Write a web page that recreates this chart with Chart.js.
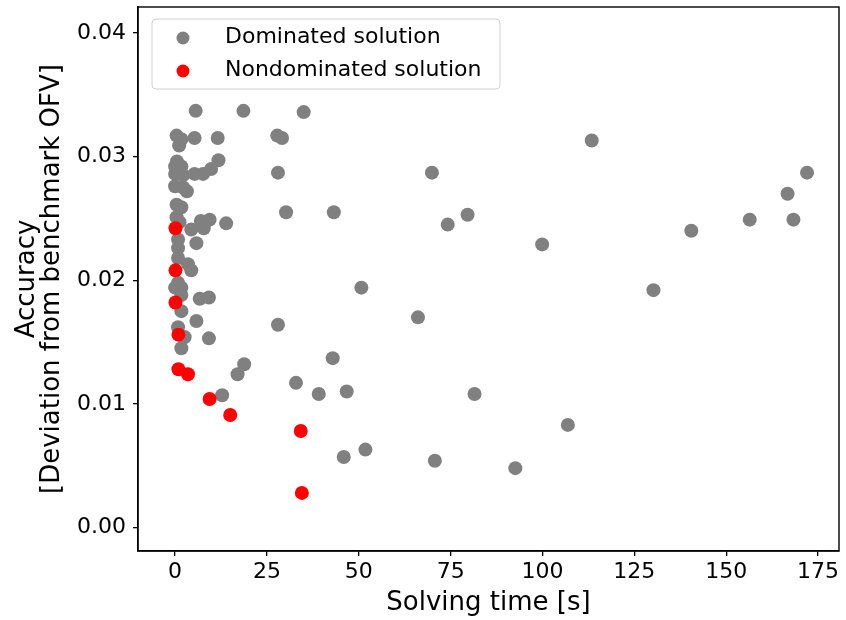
<!DOCTYPE html>
<html>
<head>
<meta charset="utf-8">
<script src="https://cdn.jsdelivr.net/npm/chart.js@4"></script>
<style>
  body { margin: 0; background: #fff; }
  #wrap { width: 846px; height: 620px; }
</style>
</head>
<body>
<div id="wrap"><canvas id="chart" width="846" height="620"></canvas></div>
<script>
// solving time [s] and accuracy of each solution
let dominatedTime = [
  0.4, 1.7, 1.1, 5.3, 11.6, 0.5, 0, 1.7, 0, 2.2, 5.3, 7.6, 9.8, 11.8,
  0, 2.2, 3.2, 0.4, 1.7, 0.4, 1.2, 4.4, 7.0, 9.4, 7.8, 13.9,
  0.8, 5.8, 0.8, 0.8, 3.5, 4.4, 0.8, 0, 1.7, 1.7, 1.7, 6.7, 9.2, 5.8,
  0.8, 2.6, 9.2, 1.7, 12.8, 17.0, 18.8,
  5.6, 18.6, 35.0, 113.4, 27.8, 29.1, 28.0, 69.9, 172, 166.7, 30.2, 43.2,
  79.6, 74.2, 156.4, 168.3, 140.5, 99.9, 50.7, 130.2, 66.1, 28.0, 42.9,
  32.9, 39.1, 46.7, 81.5, 106.9, 51.8, 45.9, 70.7, 92.6,
];
let dominatedAcc = [
  0.0317, 0.0314, 0.0309, 0.0315, 0.0315, 0.0296, 0.0292, 0.0292, 0.0286, 0.0285, 0.0286, 0.0286, 0.029, 0.0297,
  0.0276, 0.0275, 0.0272, 0.0261, 0.0259, 0.0251, 0.0247, 0.0241, 0.0248, 0.0249, 0.0242, 0.0246,
  0.0233, 0.023, 0.0226, 0.0218, 0.0213, 0.0208, 0.0198, 0.0194, 0.0194, 0.0188, 0.0175, 0.0185, 0.0186, 0.0167,
  0.0162, 0.0154, 0.0153, 0.0145, 0.0107, 0.0124, 0.0132,
  0.0337, 0.0337, 0.0336, 0.0313, 0.0317, 0.0315, 0.0287, 0.0287, 0.0287, 0.027, 0.0255, 0.0255,
  0.0253, 0.0245, 0.0249, 0.0249, 0.024, 0.0229, 0.0194, 0.0192, 0.017, 0.0164, 0.0137,
  0.0117, 0.0108, 0.011, 0.0108, 0.0083, 0.0063, 0.0057, 0.0054, 0.0048,
];
let nondominatedTime = [0.1, 0.1, 0.1, 0.9, 0.9, 3.5, 9.4, 15.0, 34.2, 34.5];
let nondominatedAcc = [0.0242, 0.0208, 0.0182, 0.0156, 0.0128, 0.0124, 0.0104, 0.0091, 0.0078, 0.0028];

let seriesLabels = ["Dominated solution", "Nondominated solution"];
let xTicks = [0, 25, 50, 75, 100, 125, 150, 175];
let yTicks = [0, 0.01, 0.02, 0.03, 0.04];

function toPoints(xs, ys) {
  return xs.map((x, i) => ({ x: x, y: ys[i] }));
}

let fontFamily = "'DejaVu Sans', sans-serif";

// axes frame like matplotlib spines
let framePlugin = {
  id: "frame",
  afterDatasetsDraw(chart) {
    let { ctx, chartArea } = chart;
    ctx.save();
    ctx.strokeStyle = "#000";
    ctx.lineWidth = 1.4;
    ctx.strokeRect(chartArea.left, chartArea.top, chartArea.right - chartArea.left, chartArea.bottom - chartArea.top);
    ctx.restore();
  },
};

// legend box in the upper left of the axes
let legendPlugin = {
  id: "boxLegend",
  afterDraw(chart) {
    let { ctx, chartArea } = chart;
    let x0 = chartArea.left + 14;
    let y0 = chartArea.top + 12;
    let w = 348;
    let h = 70;
    ctx.save();
    ctx.beginPath();
    ctx.roundRect(x0, y0, w, h, 4);
    ctx.fillStyle = "rgba(255,255,255,0.8)";
    ctx.fill();
    ctx.strokeStyle = "#d0d0d0";
    ctx.lineWidth = 1;
    ctx.stroke();
    ctx.font = "22px " + fontFamily;
    ctx.textBaseline = "middle";
    chart.data.datasets.forEach((ds, i) => {
      let cy = y0 + 19 + i * 33;
      ctx.beginPath();
      ctx.arc(x0 + 31, cy, 6.5, 0, Math.PI * 2);
      ctx.fillStyle = ds.backgroundColor;
      ctx.fill();
      ctx.fillStyle = "#000";
      ctx.fillText(ds.label, x0 + 73, cy - 1);
    });
    ctx.restore();
  },
};

let config = {
  type: "scatter",
  data: {
    datasets: [
      {
        label: seriesLabels[0],
        data: toPoints(dominatedTime, dominatedAcc),
        backgroundColor: "#808080",
        borderWidth: 0,
        pointRadius: 7,
        order: 2,
      },
      {
        label: seriesLabels[1],
        data: toPoints(nondominatedTime, nondominatedAcc),
        backgroundColor: "#ff0000",
        borderWidth: 0,
        pointRadius: 7,
        order: 1,
      },
    ],
  },
  options: {
    responsive: false,
    animation: false,
    layout: { padding: { top: 5, right: 2, left: 0, bottom: 0 } },
    plugins: {
      legend: { display: false },
      tooltip: { enabled: false },
    },
    scales: {
      x: {
        type: "linear",
        min: -10.1,
        max: 180.7,
        afterBuildTicks(scale) {
          scale.ticks = xTicks.map((v) => ({ value: v }));
        },
        afterFit(scale) {
          scale.height = 69;
          scale.paddingLeft = 0;
          scale.paddingRight = 0;
        },
        ticks: {
          color: "#000",
          padding: 3,
          maxRotation: 0,
          autoSkip: false,
          font: { family: fontFamily, size: 22 },
        },
        grid: { display: true, drawOnChartArea: false, drawTicks: true, tickLength: 5, color: "#000", lineWidth: 1.3 },
        border: { display: true, color: "#000", width: 1.4 },
        title: {
          display: true,
          text: "Solving time [s]",
          color: "#000",
          font: { family: fontFamily, size: 26 },
          padding: { top: 0, bottom: 1 },
        },
      },
      y: {
        type: "linear",
        min: -0.0019,
        max: 0.0421,
        afterBuildTicks(scale) {
          scale.ticks = yTicks.map((v) => ({ value: v }));
        },
        afterFit(scale) {
          scale.width = 138;
          scale.paddingTop = 0;
          scale.paddingBottom = 0;
        },
        ticks: {
          color: "#000",
          padding: 7,
          autoSkip: false,
          font: { family: fontFamily, size: 22 },
          callback: (v) => v.toFixed(2),
        },
        grid: { display: true, drawOnChartArea: false, drawTicks: true, tickLength: 5, color: "#000", lineWidth: 1.3 },
        border: { display: true, color: "#000", width: 1.4 },
        title: {
          display: true,
          text: ["Accuracy", "[Deviation from benchmark OFV]"],
          color: "#000",
          font: { family: fontFamily, size: 26, lineHeight: 0.96 },
          padding: { top: 14.5, bottom: 0 },
        },
      },
    },
  },
  plugins: [framePlugin, legendPlugin],
};

let chart = new Chart(document.getElementById("chart").getContext("2d"), config);
</script>
</body>
</html>
